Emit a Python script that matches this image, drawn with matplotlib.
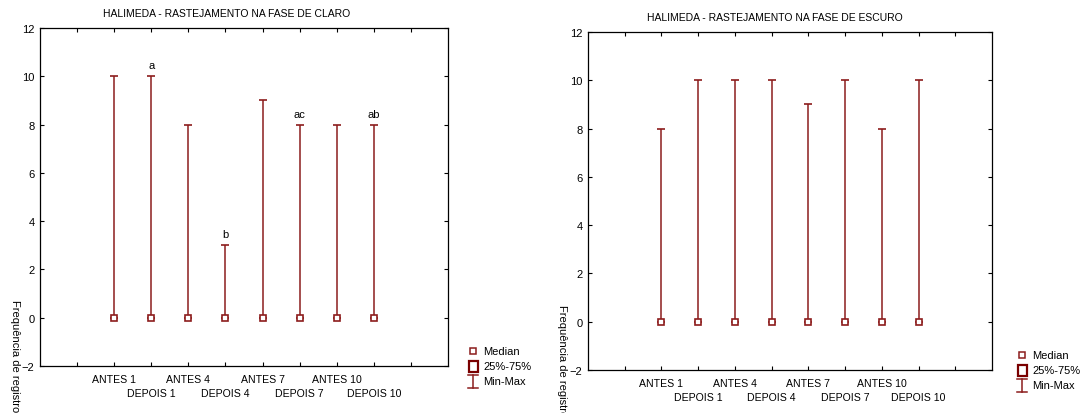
import numpy as np
import matplotlib
matplotlib.use('Agg')
from matplotlib import pyplot as plt
from matplotlib.lines import Line2D
from matplotlib.patches import Rectangle
from matplotlib.transforms import blended_transform_factory

plt.rcParams['font.family'] = ['Liberation Sans', 'DejaVu Sans']

groups = ['ANTES 1', 'DEPOIS 1', 'ANTES 4', 'DEPOIS 4',
          'ANTES 7', 'DEPOIS 7', 'ANTES 10', 'DEPOIS 10']

claro_median = [0, 0, 0, 0, 0, 0, 0, 0]
claro_min = [0, 0, 0, 0, 0, 0, 0, 0]
claro_max = [10, 10, 8, 3, 9, 8, 8, 8]
claro_letters = ['', 'a', '', 'b', '', 'ac', '', 'ab']

escuro_median = [0, 0, 0, 0, 0, 0, 0, 0]
escuro_min = [0, 0, 0, 0, 0, 0, 0, 0]
escuro_max = [8, 10, 10, 10, 9, 10, 8, 10]

titles = ['HALIMEDA - RASTEJAMENTO NA FASE DE CLARO',
          'HALIMEDA - RASTEJAMENTO NA FASE DE ESCURO']
ylabel = 'Frequência de registro'
yticks = [-2, 0, 2, 4, 6, 8, 10, 12]

RED = '#8c1c1c'
W, H = 1085, 414

fig = plt.figure(figsize=(W / 100, H / 100), dpi=100)


def px(x, y):
    return x / W, 1 - y / H


def whisker_plot(ax, med, lo, hi, letters=None):
    x = np.arange(len(groups))
    ax.errorbar(x, med, yerr=[np.array(med) - np.array(lo), np.array(hi) - np.array(med)],
                fmt='none', ecolor=RED, elinewidth=1.1, capsize=3, capthick=1.2)
    ax.plot(x, med, ls='none', marker='s', ms=4, mfc='white', mec=RED, mew=1.2)
    if letters:
        for xi, h, t in zip(x, hi, letters):
            if t:
                ax.text(xi, h + 0.25, t, ha='center', va='bottom', fontsize=8)
    ax.set_xlim(-2, len(groups) + 1)
    ax.set_ylim(-2, 12)
    ax.set_yticks(yticks)
    ax.set_xticks(np.arange(-1, len(groups) + 1))
    ax.set_xticklabels([])
    # group names on two staggered rows below the axis
    trans = blended_transform_factory(ax.transData, ax.transAxes)
    h_ax = ax.get_position().height * H
    for i, g in enumerate(groups):
        off = 13 if i % 2 == 0 else 27
        ax.text(x[i], -off / h_ax, g, transform=trans, ha='center', va='center',
                fontsize=7.6)
    ax.tick_params(direction='in', length=3, width=0.8, top=True, right=True,
                   labelsize=8, pad=4)
    for s in ax.spines.values():
        s.set_linewidth(0.9)


def legend(x0, y0):
    # small square, big square, min-max whisker
    fig.add_artist(Line2D([px(x0, y0)[0]], [px(x0, y0)[1]], ls='none', marker='s',
                          ms=4.5, mfc='white', mec=RED, mew=1.1))
    cx, cy = px(x0, y0 + 15)
    bw, bh = 9 / W, 11 / H
    fig.add_artist(Rectangle((cx - bw / 2, cy - bh / 2), bw, bh, fill=False,
                             ec='#7a0000', lw=1.6, transform=fig.transFigure))
    t, b = px(x0, y0 + 24)[1], px(x0, y0 + 37)[1]
    cw = 5 / W
    fig.add_artist(Line2D([cx, cx], [b, t], color=RED, lw=1.1))
    fig.add_artist(Line2D([cx - cw, cx + cw], [t, t], color=RED, lw=1.1))
    fig.add_artist(Line2D([cx - cw, cx + cw], [b, b], color=RED, lw=1.1))
    for i, s in enumerate(['Median', '25%-75%', 'Min-Max']):
        tx, ty = px(x0 + 10, y0 + 15 * i)
        fig.text(tx, ty, s, fontsize=8, va='center', ha='left')


# left panel: light phase
ax1 = fig.add_axes([40 / W, 47 / H, 408 / W, 338 / H])
whisker_plot(ax1, claro_median, claro_min, claro_max, claro_letters)
fig.text(*px(227, 14), titles[0], fontsize=7.5, ha='center', va='center')
fig.text(*px(10, 300), ylabel, fontsize=8, rotation=-90, ha='left', va='top')
legend(473, 352)

# right panel: dark phase
ax2 = fig.add_axes([588 / W, 43 / H, 404 / W, 338 / H])
whisker_plot(ax2, escuro_median, escuro_min, escuro_max)
fig.text(*px(775, 18), titles[1], fontsize=7.5, ha='center', va='center')
fig.text(*px(557, 305), ylabel, fontsize=8, rotation=-90, ha='left', va='top')
legend(1022, 356)

fig.savefig('out.png', dpi=100)
